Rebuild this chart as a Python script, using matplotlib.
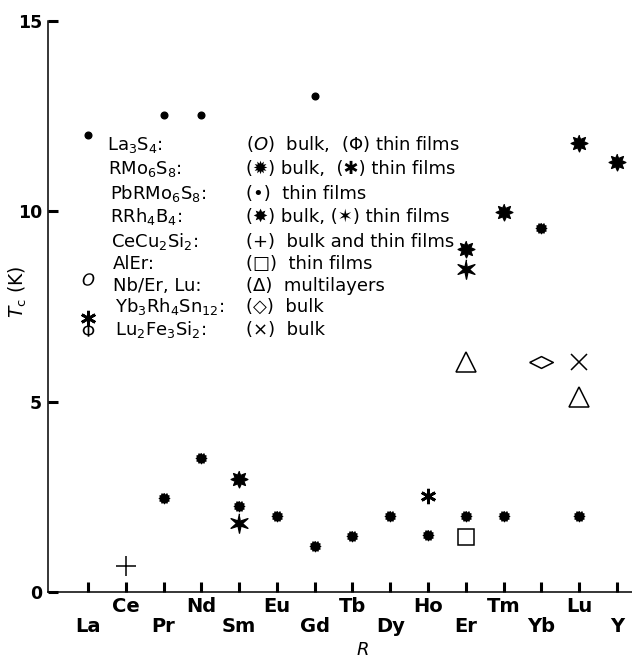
import numpy as np
import matplotlib
matplotlib.use("Agg")
import matplotlib.pyplot as plt

plt.rcParams['font.family'] = ['DejaVu Sans']

# rare-earth element on the x axis
elements = ['La', 'Ce', 'Pr', 'Nd', 'Sm', 'Eu', 'Gd', 'Tb', 'Dy', 'Ho', 'Er', 'Tm', 'Yb', 'Lu', 'Y']

# RMo6S8: bulk / thin films
rmo_bulk_el = ['Pr', 'Nd', 'Sm', 'Eu', 'Gd', 'Tb', 'Dy', 'Ho', 'Er', 'Tm', 'Yb', 'Lu']
rmo_bulk_tc = [2.47, 3.51, 2.25, 1.99, 1.21, 1.47, 2.0, 1.5, 1.99, 1.99, 9.57, 1.99]
rmo_film_el = ['La', 'Ho']
rmo_film_tc = [7.2, 2.51]

# PbRMo6S8 thin films
pb_film_el = ['La', 'Pr', 'Nd', 'Gd']
pb_film_tc = [12.02, 12.54, 12.53, 13.03]

# RRh4B4: bulk / thin films
rrh_bulk_el = ['Sm', 'Er', 'Tm', 'Lu', 'Y']
rrh_bulk_tc = [2.97, 9.01, 9.99, 11.8, 11.31]
rrh_film_el = ['Sm', 'Er']
rrh_film_tc = [1.8, 8.49]

# La3S4: bulk / thin films
la3s4_bulk_el = ['La']
la3s4_bulk_tc = [8.21]
la3s4_film_el = ['La']
la3s4_film_tc = [6.87]

# CeCu2Si2, AlEr, Nb/Er,Lu multilayers, Yb3Rh4Sn12, Lu2Fe3Si2
cecu_el, cecu_tc = ['Ce'], [0.67]
aler_el, aler_tc = ['Er'], [1.44]
multi_el, multi_tc = ['Er', 'Lu'], [6.04, 5.11]
ybrh_el, ybrh_tc = ['Yb'], [6.04]
lufe_el, lufe_tc = ['Lu'], [6.04]

# legend block text
names = [r'La$_3$S$_4$:', r'RMo$_6$S$_8$:', r'PbRMo$_6$S$_8$:', r'RRh$_4$B$_4$:',
         r'CeCu$_2$Si$_2$:', 'AlEr:', 'Nb/Er, Lu:', r'Yb$_3$Rh$_4$Sn$_{12}$:',
         r'Lu$_2$Fe$_3$Si$_2$:']
descs = [r'($O$)  bulk,  ($\Phi$) thin films', '(✹) bulk,  (✱) thin films',
         '(•)  thin films', '(✸) bulk, (✶) thin films', '(+)  bulk and thin films',
         '(□)  thin films', '(Δ)  multilayers', '(◇)  bulk', '(×)  bulk']


def star(n, inner):
    ang = np.linspace(0, 2 * np.pi, 2 * n, endpoint=False) + np.pi / 2
    r = np.where(np.arange(2 * n) % 2 == 0, 1.0, inner)
    return np.column_stack([r * np.cos(ang), r * np.sin(ang)])


flat_diamond = np.array([[-1, 0], [0, 0.5], [1, 0], [0, -0.5], [-1, 0]])
pos = {e: i for i, e in enumerate(elements)}


def xs(els):
    return [pos[e] for e in els]


W, H = 632, 664
fig = plt.figure(figsize=(W / 100, H / 100), dpi=100)
ax = fig.add_axes([47.6 / W, 1 - 591.7 / H, 1 - 47.6 / W, (591.7 - 21.2) / H])

k = 'black'
ax.plot(xs(pb_film_el), pb_film_tc, ls='none', marker='o', ms=4.8, color=k)
ax.plot(xs(rmo_bulk_el), rmo_bulk_tc, ls='none', marker=star(12, 0.72), ms=7.5, color=k)
ax.plot(xs(rmo_film_el), rmo_film_tc, ls='none', marker=(6, 2, 0), ms=11, mew=2.0, color=k)
ax.plot(xs(rrh_bulk_el), rrh_bulk_tc, ls='none', marker=star(8, 0.55), ms=12, color=k)
ax.plot(xs(rrh_film_el), rrh_film_tc, ls='none', marker=star(6, 0.3), ms=14, color=k)
ax.plot(xs(la3s4_bulk_el), la3s4_bulk_tc, ls='none', marker='$O$', ms=9, mew=0, color=k)
ax.plot(xs(la3s4_film_el), la3s4_film_tc, ls='none', marker=r'$\Phi$', ms=9, mew=0, color=k)
ax.plot(xs(cecu_el), cecu_tc, ls='none', marker='+', ms=14, mew=1.1, color=k)
ax.plot(xs(aler_el), aler_tc, ls='none', marker='s', ms=12, mfc='none', mew=1.1, color=k)
ax.plot(xs(multi_el), multi_tc, ls='none', marker='^', ms=14, mfc='none', mew=1.1, color=k)
ax.plot(xs(ybrh_el), ybrh_tc, ls='none', marker=flat_diamond, ms=17, mfc='none', mew=1.1, color=k)
ax.plot(xs(lufe_el), lufe_tc, ls='none', marker='x', ms=12, mew=1.1, color=k)

ax.set_xlim(-1.07, 14.4)
ax.set_ylim(0, 15)
for s in ['top', 'right']:
    ax.spines[s].set_visible(False)
for s in ['left', 'bottom']:
    ax.spines[s].set_linewidth(1.1)

low = list(range(0, len(elements), 2))
high = list(range(1, len(elements), 2))
ax.set_xticks(low, [elements[i] for i in low], fontsize=14, fontweight='bold')
ax.set_xticks(high, [elements[i] for i in high], minor=True, fontsize=14, fontweight='bold')
ax.tick_params(axis='x', which='both', direction='in', length=7, width=2.2)
ax.tick_params(axis='x', which='major', pad=18)
ax.tick_params(axis='x', which='minor', pad=3.5)

ax.set_yticks([0, 5, 10, 15], ['0', '5', '10', '15'], fontsize=12.5, fontweight='bold')
ax.tick_params(axis='y', direction='in', length=7, width=2.2, pad=4)

fig.text(18 / W, 1 - 292 / H, r'$T_\mathrm{c}$ (K)', rotation=90, fontsize=13.5,
         ha='center', va='center')
fig.text(362 / W, 1 - 650 / H, '$R$', fontsize=13, ha='center', va='center')

baselines = [150, 174, 199, 222, 247, 269, 291, 312, 335]
name_x = [107, 108, 110, 110, 111, 113, 113, 115, 115]
for nm, d, by, nx in zip(names, descs, baselines, name_x):
    fig.text(nx / W, 1 - by / H, nm, fontsize=13, va='baseline', ha='left')
    fig.text(246 / W, 1 - by / H, d, fontsize=13, va='baseline', ha='left')

fig.savefig('out.png', dpi=100)
